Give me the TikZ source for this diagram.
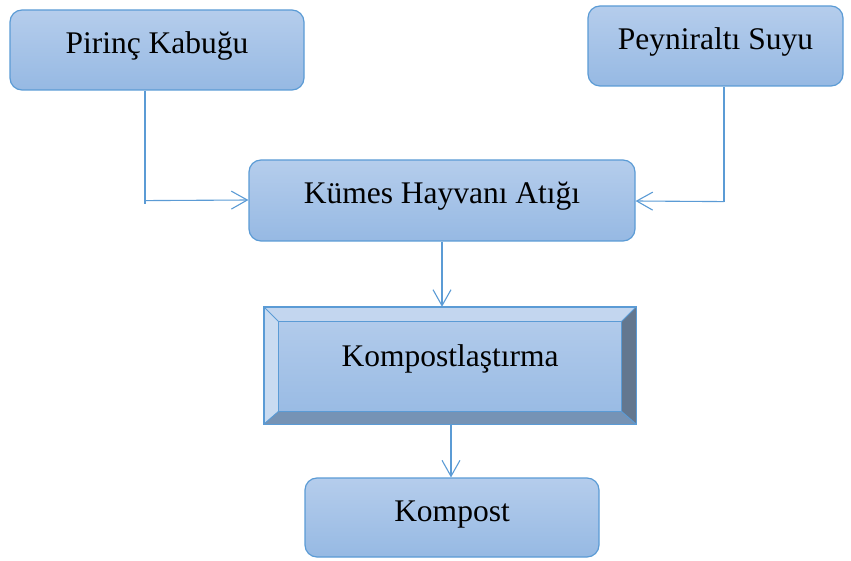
\documentclass[tikz,border=0pt]{standalone}
\usepackage{fontspec}
\setmainfont{Liberation Serif}
\usetikzlibrary{arrows.meta,calc}
\definecolor{edgeblue}{HTML}{5B9BD5}
\definecolor{topfill}{HTML}{B5CDEC}
\definecolor{botfill}{HTML}{96B9E3}
\definecolor{bevtop}{HTML}{C3D6EF}
\definecolor{bevleft}{HTML}{C9DBF1}
\definecolor{bevright}{HTML}{63778F}
\definecolor{bevbot}{HTML}{7693B5}
\tikzset{
  rbox/.style={draw=edgeblue, line width=1.2pt, rounded corners=12pt, top color=topfill, bottom color=botfill,
    font=\fontsize{31.5}{36}\selectfont, inner sep=0pt, text height=22pt, text depth=15pt},
  conn/.style={draw=edgeblue, line width=1.1pt},
  arr/.style={conn, -{Straight Barb[length=16pt,width=18pt,line width=1.1pt]}},
}
\begin{document}
\begin{tikzpicture}[x=1pt,y=-1pt]
\useasboundingbox (0,0) rectangle (851,561);
\node[rbox, minimum width=294pt, minimum height=80pt] (pk) at (157,50) {Pirinç Kabuğu};
\node[rbox, minimum width=255pt, minimum height=80pt] (ps) at (715.5,46) {Peyniraltı Suyu};
\node[rbox, minimum width=386pt, minimum height=81pt] (kh) at (442,200.5) {Kümes Hayvanı Atığı};
\node[rbox, minimum width=294pt, minimum height=79pt] (ko) at (452,517.5) {Kompost};
% bevel box
\node[minimum width=372pt, minimum height=117pt, inner sep=0pt, top color=topfill, bottom color=botfill] (kp) at (450,365.5) {};
\coordinate (inw) at ([shift={(15,15)}]kp.north west);
\coordinate (ine) at ([shift={(-15,15)}]kp.north east);
\coordinate (ise) at ([shift={(-15,-13)}]kp.south east);
\coordinate (isw) at ([shift={(15,-13)}]kp.south west);
\fill[bevtop] (kp.north west) -- (kp.north east) -- (ine) -- (inw) -- cycle;
\fill[bevleft] (kp.north west) -- (inw) -- (isw) -- (kp.south west) -- cycle;
\fill[bevright] (kp.north east) -- (kp.south east) -- (ise) -- (ine) -- cycle;
\fill[bevbot] (kp.south west) -- (isw) -- (ise) -- (kp.south east) -- cycle;
\draw[edgeblue, line width=1pt] (kp.north west) -- (inw) (kp.north east) -- (ine) (kp.south east) -- (ise) (kp.south west) -- (isw);
\draw[edgeblue, line width=1pt] (inw) rectangle (ise);
\draw[edgeblue, line width=1.4pt] (kp.north west) rectangle (kp.south east);
\node[font=\fontsize{31.5}{36}\selectfont, inner sep=0pt] (kpt) at (450,359) {Kompostlaştırma};
% connectors
\coordinate (pkb) at ([xshift=-12pt,yshift=-113pt]pk.south);
\draw[conn] ([xshift=-12pt]pk.south) -- (pkb);
\draw[arr] ([xshift=-12pt,yshift=-110pt]pk.south) -- (kh.west |- 0,200);
\draw[conn] ([xshift=8.5pt]ps.south) -- ([xshift=8.5pt,yshift=-115pt]ps.south);
\draw[arr] ([xshift=8.5pt,yshift=-115pt]ps.south) -- (kh.east |- 0,201);
\draw[arr] (kh.south) -- (kh.south |- kp.north);
\draw[arr] ([xshift=1pt]kp.south) -- ([xshift=1pt]kp.south |- ko.north);
\end{tikzpicture}
\end{document}
